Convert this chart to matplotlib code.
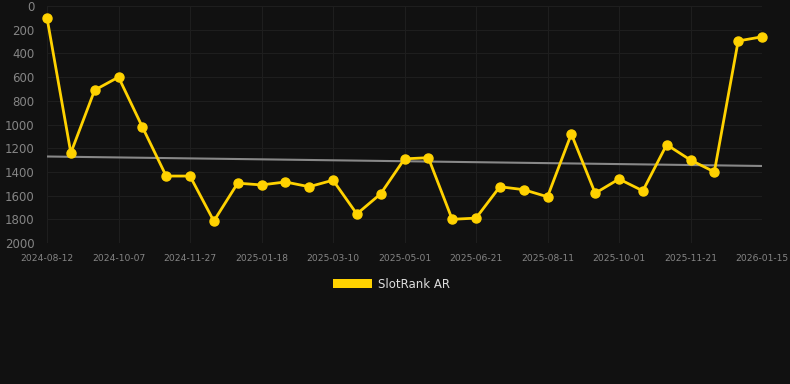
import numpy as np
import matplotlib.pyplot as plt
from matplotlib.patches import Patch

dates = ['2024-08-12', '2024-08-29', '2024-09-18', '2024-10-07', '2024-10-24', '2024-11-10',
         '2024-11-27', '2024-12-14', '2025-01-01', '2025-01-18', '2025-02-04', '2025-02-21',
         '2025-03-10', '2025-03-27', '2025-04-14', '2025-05-01', '2025-05-18', '2025-06-04',
         '2025-06-21', '2025-07-08', '2025-07-25', '2025-08-11', '2025-08-28', '2025-09-14',
         '2025-10-01', '2025-10-18', '2025-11-04', '2025-11-21', '2025-12-08', '2025-12-27',
         '2026-01-15']
rank = [100, 1240, 710, 600, 1020, 1435, 1435, 1815, 1495, 1510, 1485, 1525, 1470, 1755,
        1585, 1290, 1280, 1800, 1790, 1525, 1550, 1610, 1080, 1580, 1460, 1560, 1170, 1300,
        1400, 295, 260]
trend_ends = [1270, 1350]

bg = '#111111'
x = np.arange(len(dates))

fig = plt.figure(figsize=(7.9, 3.84), dpi=100, facecolor=bg)
ax = fig.add_axes([47/790, 1 - 243/384, (762 - 47)/790, (243 - 6)/384], facecolor=bg)

ax.plot([x[0], x[-1]], trend_ends, color='#888888', lw=1.5, zorder=2)
ax.plot(x, rank, color='#FFD200', lw=2.0, marker='o', ms=6.5, zorder=3, clip_on=False)

ax.set_xlim(x[0], x[-1])
ax.set_ylim(2000, 0)
ax.set_yticks(range(0, 2001, 200))
ax.set_xticks(x[::3])
ax.set_xticklabels(dates[::3])
ax.grid(True, color='#1e1e1e', lw=0.8)
ax.set_axisbelow(True)
for s in ax.spines.values():
    s.set_visible(False)
ax.tick_params(axis='y', colors='#858585', labelsize=8.5, length=0, pad=9)
ax.tick_params(axis='x', colors='#858585', labelsize=6.6, length=0, pad=8)

handle = Patch(facecolor='#FFD200', edgecolor='none')
fig.legend([handle], ['SlotRank AR'], loc='center', bbox_to_anchor=(0.496, 1 - 284/384),
           frameon=False, labelcolor='#dddddd', fontsize=8.5, handlelength=3.3,
           handleheight=0.9, handletextpad=0.5)

fig.savefig('out.png', dpi=100, facecolor=bg)
